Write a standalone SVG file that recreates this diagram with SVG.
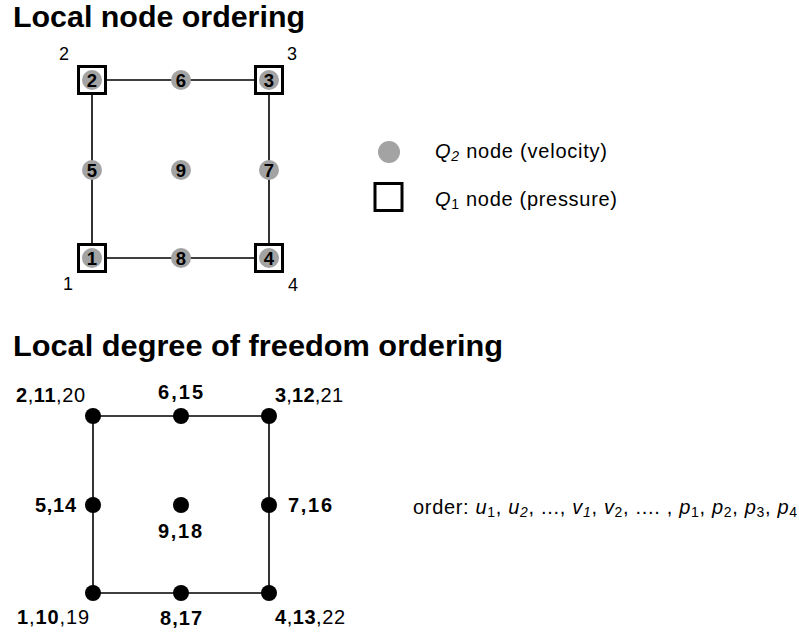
<svg xmlns="http://www.w3.org/2000/svg" width="799" height="632" viewBox="0 0 799 632">
<style>
text{font-family:"Liberation Sans",Arial,sans-serif;fill:#000}
.title{font-size:29px;font-weight:bold}
.edge{stroke:#000;stroke-width:1.6;fill:none}
.sq{fill:#fff;stroke:#000;stroke-width:3}
.gc{fill:#a3a3a3}
.gn{font-size:18.5px;font-weight:bold;text-anchor:middle}
.cl{font-size:18px}
.leg{font-size:20px}
.dot{fill:#000}
.dl{font-size:20px;font-weight:bold}
.n{font-weight:normal}
</style>
<rect width="799" height="632" fill="#fff"/>
<text class="title" x="13" y="27" textLength="292" lengthAdjust="spacingAndGlyphs">Local node ordering</text>
<text class="title" x="13" y="356" textLength="490" lengthAdjust="spacingAndGlyphs">Local degree of freedom ordering</text>

<g id="connectors-top">
<path class="edge" d="M92,80 H269 V258 H92 Z"/>
</g>
<g id="q1nodes">
<rect id="sq1" class="sq" x="78.5" y="244.5" width="27" height="27"/>
<rect id="sq2" class="sq" x="78.5" y="66.5" width="27" height="27"/>
<rect id="sq3" class="sq" x="255.5" y="66.5" width="27" height="27"/>
<rect id="sq4" class="sq" x="255.5" y="244.5" width="27" height="27"/>
</g>
<g id="n1"><circle class="gc" cx="92" cy="258" r="10"/><text class="gn" x="92" y="264.5">1</text></g>
<g id="n2"><circle class="gc" cx="92" cy="80" r="10"/><text class="gn" x="92" y="86.5">2</text></g>
<g id="n3"><circle class="gc" cx="269" cy="80" r="10"/><text class="gn" x="269" y="86.5">3</text></g>
<g id="n4"><circle class="gc" cx="269" cy="258" r="10"/><text class="gn" x="269" y="264.5">4</text></g>
<g id="n5"><circle class="gc" cx="92" cy="170" r="10"/><text class="gn" x="92" y="176.5">5</text></g>
<g id="n6"><circle class="gc" cx="181" cy="80" r="10"/><text class="gn" x="181" y="86.5">6</text></g>
<g id="n7"><circle class="gc" cx="269" cy="170" r="10"/><text class="gn" x="269" y="176.5">7</text></g>
<g id="n8"><circle class="gc" cx="181" cy="258" r="10"/><text class="gn" x="181" y="264.5">8</text></g>
<g id="n9"><circle class="gc" cx="181" cy="170" r="10"/><text class="gn" x="181" y="176.5">9</text></g>
<g id="corner-labels">
<text class="cl" x="59" y="60">2</text>
<text class="cl" x="287" y="60">3</text>
<text class="cl" x="63" y="290">1</text>
<text class="cl" x="288" y="291">4</text>
</g>

<g id="legend">
<circle class="gc" cx="389" cy="152" r="11"/>
<text class="leg" x="435" y="157.5" textLength="172" lengthAdjust="spacing"><tspan font-style="italic">Q</tspan><tspan font-size="14" font-style="italic" dy="3">2</tspan><tspan dy="-3"> node (velocity)</tspan></text>
<rect class="sq" x="375" y="183.5" width="27" height="27" stroke-width="3.5"/>
<text class="leg" x="435" y="206" textLength="182" lengthAdjust="spacing"><tspan font-style="italic">Q</tspan><tspan font-size="14" dy="3">1</tspan><tspan dy="-3"> node (pressure)</tspan></text>
</g>

<g id="connectors-bottom">
<path class="edge" d="M93,416 H269 V593 H93 Z"/>
</g>
<g id="d1"><circle class="dot" cx="93" cy="593" r="8"/><text class="dl" x="17" y="624" textLength="72" lengthAdjust="spacing">1<tspan class="n">,</tspan>10<tspan class="n">,19</tspan></text></g>
<g id="d2"><circle class="dot" cx="93" cy="416" r="8"/><text class="dl" x="16" y="401.5" textLength="69" lengthAdjust="spacing">2<tspan class="n">,</tspan>11<tspan class="n">,20</tspan></text></g>
<g id="d3"><circle class="dot" cx="269" cy="416" r="8"/><text class="dl" x="275" y="401.5" textLength="68" lengthAdjust="spacing">3<tspan class="n">,</tspan>12<tspan class="n">,21</tspan></text></g>
<g id="d4"><circle class="dot" cx="269" cy="593" r="8"/><text class="dl" x="275" y="624" textLength="70" lengthAdjust="spacing">4<tspan class="n">,</tspan>13<tspan class="n">,22</tspan></text></g>
<g id="d5"><circle class="dot" cx="93" cy="505" r="8"/><text class="dl" x="35" y="512" textLength="41" lengthAdjust="spacing">5,14</text></g>
<g id="d6"><circle class="dot" cx="181" cy="416" r="8"/><text class="dl" x="158" y="399" textLength="45" lengthAdjust="spacing">6,15</text></g>
<g id="d7"><circle class="dot" cx="269" cy="505" r="8"/><text class="dl" x="288" y="512" textLength="44" lengthAdjust="spacing">7,16</text></g>
<g id="d8"><circle class="dot" cx="181" cy="593" r="8"/><text class="dl" x="160" y="625" textLength="42" lengthAdjust="spacing">8,17</text></g>
<g id="d9"><circle class="dot" cx="181" cy="505" r="8"/><text class="dl" x="158" y="538" textLength="44" lengthAdjust="spacing">9,18</text></g>

<text id="order" class="leg" x="413" y="514" textLength="384" lengthAdjust="spacing">order: <tspan font-style="italic">u</tspan><tspan font-size="14" dy="3">1</tspan><tspan dy="-3">, </tspan><tspan font-style="italic">u</tspan><tspan font-size="14" font-style="italic" dy="3">2</tspan><tspan dy="-3">, ..., </tspan><tspan font-style="italic">v</tspan><tspan font-size="14" font-style="italic" dy="3">1</tspan><tspan dy="-3">, </tspan><tspan font-style="italic">v</tspan><tspan font-size="14" dy="3">2</tspan><tspan dy="-3">, .... , </tspan><tspan font-style="italic">p</tspan><tspan font-size="14" dy="3">1</tspan><tspan dy="-3">, </tspan><tspan font-style="italic">p</tspan><tspan font-size="14" dy="3">2</tspan><tspan dy="-3">, </tspan><tspan font-style="italic">p</tspan><tspan font-size="14" dy="3">3</tspan><tspan dy="-3">, </tspan><tspan font-style="italic">p</tspan><tspan font-size="14" dy="3">4</tspan></text>
</svg>
